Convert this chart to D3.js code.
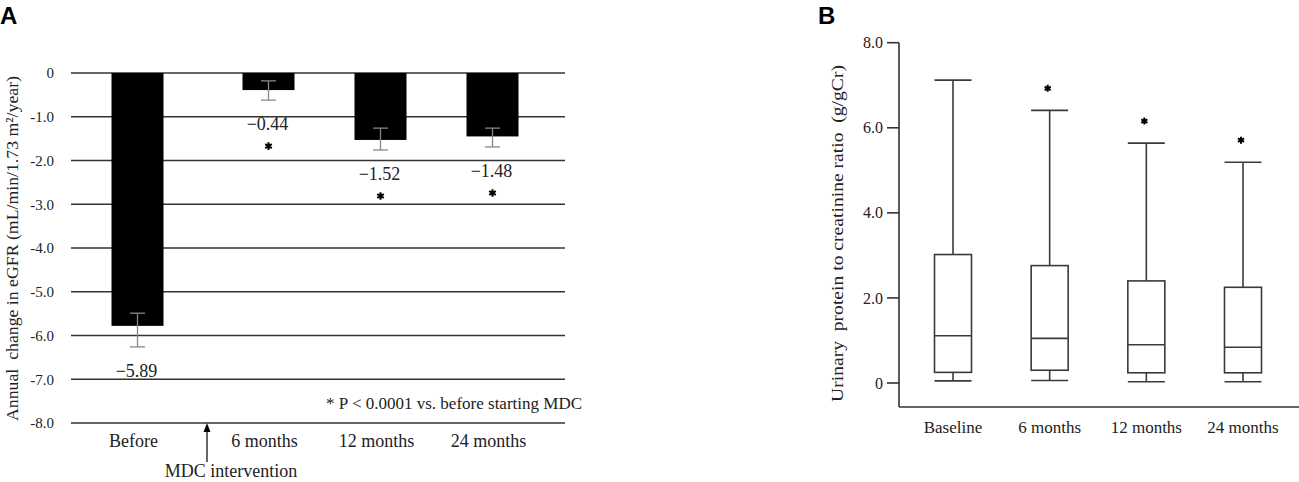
<!DOCTYPE html>
<html><head><meta charset="utf-8">
<script src="https://cdn.jsdelivr.net/npm/d3@7"></script>
<style>
html,body{margin:0;padding:0;background:#fff;}
svg{display:block;}
text{font-family:"Liberation Serif","Times New Roman",serif;fill:#222;}
.panel{font-family:"Liberation Sans",Arial,sans-serif;font-weight:bold;fill:#000;}
</style></head>
<body>
<svg id="chart" width="1299" height="482"></svg>
<script>
// ---------- Panel A data ----------
const catsA = ["Before", "6 months", "12 months", "24 months"];
const barValuesA = [-5.78, -0.39, -1.53, -1.45];
const errHighA = [-5.49, -0.18, -1.26, -1.26];
const errLowA = [-6.26, -0.62, -1.76, -1.69];
const valueLabelsA = ["\u22125.89", "\u22120.44", "\u22121.52", "\u22121.48"];
const starsA = [false, true, true, true];
const ticksA = [0, -1, -2, -3, -4, -5, -6, -7, -8];
const tickLabelsA = ["0", "-1.0", "-2.0", "-3.0", "-4.0", "-5.0", "-6.0", "-7.0", "-8.0"];

// ---------- Panel B data ----------
const catsB = ["Baseline", "6 months", "12 months", "24 months"];
const whiskerHighB = [7.12, 6.41, 5.64, 5.19];
const q3B = [3.02, 2.76, 2.40, 2.25];
const medianB = [1.11, 1.05, 0.90, 0.84];
const q1B = [0.25, 0.30, 0.24, 0.24];
const whiskerLowB = [0.05, 0.06, 0.03, 0.03];
const starsB = [false, true, true, true];
const ticksB = [0, 2, 4, 6, 8];
const tickLabelsB = ["0", "2.0", "4.0", "6.0", "8.0"];

const svg = d3.select("#chart");

// ================= Panel A =================
const gA = svg.append("g");
const yA = d3.scaleLinear().domain([-8, 0]).range([423, 73]);
const xA = d3.scalePoint().domain(catsA).range([156.5, 492.5]);
const interventionGap = 19; // "Before" sits further left, before the intervention arrow
const cxA = (c) => xA(c) - (c === "Before" ? interventionGap : 0);
const barW = 52;

gA.selectAll("line.grid").data(ticksA).join("line")
  .attr("x1", 71).attr("x2", 565)
  .attr("y1", d => yA(d)).attr("y2", d => yA(d))
  .attr("stroke", "#333").attr("stroke-width", 1.6);

gA.selectAll("text.tick").data(ticksA).join("text")
  .attr("x", 54).attr("y", d => yA(d)).attr("dy", "0.35em")
  .attr("text-anchor", "end").attr("font-size", 15)
  .text((d, i) => tickLabelsA[i]);

const dataA = catsA.map((c, i) => ({c, v: barValuesA[i], hi: errHighA[i], lo: errLowA[i], lab: valueLabelsA[i], star: starsA[i]}));
gA.selectAll("rect.bar").data(dataA).join("rect")
  .attr("x", d => cxA(d.c) - barW / 2).attr("width", barW)
  .attr("y", yA(0)).attr("height", d => yA(d.v) - yA(0))
  .attr("fill", "#000");

const eb = gA.selectAll("g.eb").data(dataA).join("g").attr("stroke", "#888").attr("stroke-width", 1.3);
eb.append("line").attr("x1", d => cxA(d.c)).attr("x2", d => cxA(d.c))
  .attr("y1", d => yA(d.hi)).attr("y2", d => yA(d.lo));
eb.append("line").attr("x1", d => cxA(d.c) - 7.5).attr("x2", d => cxA(d.c) + 7.5)
  .attr("y1", d => yA(d.hi)).attr("y2", d => yA(d.hi));
eb.append("line").attr("x1", d => cxA(d.c) - 7.5).attr("x2", d => cxA(d.c) + 7.5)
  .attr("y1", d => yA(d.lo)).attr("y2", d => yA(d.lo));

gA.selectAll("text.val").data(dataA).join("text")
  .attr("x", d => cxA(d.c) - 1).attr("y", d => yA(d.lo) + 30)
  .attr("text-anchor", "middle").attr("font-size", 18)
  .text(d => d.lab);

gA.selectAll("path.star").data(dataA.filter(d => d.star)).join("path")
  .attr("d", d3.symbol(d3.symbolAsterisk, 40))
  .attr("transform", d => `translate(${cxA(d.c)},${yA(d.lo) + 46})`)
  .attr("stroke", "#000").attr("stroke-width", 2).attr("fill", "none");

gA.selectAll("text.xl").data(catsA).join("text")
  .attr("x", d => cxA(d) - 4).attr("y", 447)
  .attr("text-anchor", "middle").attr("font-size", 18)
  .text(d => d);

const arrowX = (cxA("Before") + cxA("6 months")) / 2 + 4;
gA.append("line").attr("x1", arrowX).attr("x2", arrowX).attr("y1", 430).attr("y2", 462)
  .attr("stroke", "#000").attr("stroke-width", 1.2);
gA.append("path").attr("d", `M${arrowX - 3.5},432 L${arrowX},423 L${arrowX + 3.5},432 Z`).attr("fill", "#000");
gA.append("text").attr("x", arrowX + 24).attr("y", 477).attr("text-anchor", "middle")
  .attr("font-size", 18).text("MDC intervention");

gA.append("text").attr("x", 582).attr("y", 409).attr("text-anchor", "end")
  .attr("font-size", 17).text("* P < 0.0001 vs. before starting MDC");

gA.append("text").attr("transform", `translate(18,${(yA(0) + yA(-8)) / 2 + 0.5}) rotate(-90)`)
  .attr("text-anchor", "middle").attr("font-size", 17).style("white-space", "pre")
  .attr("textLength", 345).attr("lengthAdjust", "spacingAndGlyphs")
  .text("Annual  change in eGFR (mL/min/1.73 m\u00B2/year)");

svg.append("text").attr("class", "panel").attr("x", 0).attr("y", 24).attr("font-size", 24).text("A");

// ================= Panel B =================
const gB = svg.append("g");
const yB = d3.scaleLinear().domain([0, 8]).range([383, 42.7]);
const xB = d3.scalePoint().domain(catsB).range([953, 1243]);
const boxW = 37;

gB.append("line").attr("x1", 899).attr("x2", 899).attr("y1", yB(8)).attr("y2", 407)
  .attr("stroke", "#333").attr("stroke-width", 1.6);
gB.append("line").attr("x1", 899).attr("x2", 1299).attr("y1", 407).attr("y2", 407)
  .attr("stroke", "#333").attr("stroke-width", 1.6);
gB.selectAll("line.tk").data(ticksB).join("line")
  .attr("x1", 887).attr("x2", 899).attr("y1", d => yB(d)).attr("y2", d => yB(d))
  .attr("stroke", "#333").attr("stroke-width", 1.6);
gB.selectAll("text.tk").data(ticksB).join("text")
  .attr("x", 883).attr("y", d => yB(d)).attr("dy", "0.35em")
  .attr("text-anchor", "end").attr("font-size", 16)
  .text((d, i) => tickLabelsB[i]);

const dataB = catsB.map((c, i) => ({c, hi: whiskerHighB[i], q3: q3B[i], med: medianB[i], q1: q1B[i], lo: whiskerLowB[i], star: starsB[i]}));
const bx = gB.selectAll("g.box").data(dataB).join("g")
  .attr("stroke", "#3a3a3a").attr("stroke-width", 1.6).attr("fill", "none");
bx.append("line").attr("x1", d => xB(d.c)).attr("x2", d => xB(d.c))
  .attr("y1", d => yB(d.hi)).attr("y2", d => yB(d.q3));
bx.append("line").attr("x1", d => xB(d.c)).attr("x2", d => xB(d.c))
  .attr("y1", d => yB(d.q1)).attr("y2", d => yB(d.lo));
bx.append("line").attr("x1", d => xB(d.c) - boxW / 2).attr("x2", d => xB(d.c) + boxW / 2)
  .attr("y1", d => yB(d.hi)).attr("y2", d => yB(d.hi));
bx.append("line").attr("x1", d => xB(d.c) - boxW / 2).attr("x2", d => xB(d.c) + boxW / 2)
  .attr("y1", d => yB(d.lo)).attr("y2", d => yB(d.lo));
bx.append("rect").attr("x", d => xB(d.c) - boxW / 2).attr("width", boxW)
  .attr("y", d => yB(d.q3)).attr("height", d => yB(d.q1) - yB(d.q3)).attr("fill", "#fff");
bx.append("line").attr("x1", d => xB(d.c) - boxW / 2).attr("x2", d => xB(d.c) + boxW / 2)
  .attr("y1", d => yB(d.med)).attr("y2", d => yB(d.med));

gB.selectAll("path.star").data(dataB.filter(d => d.star)).join("path")
  .attr("d", d3.symbol(d3.symbolAsterisk, 34))
  .attr("transform", d => `translate(${xB(d.c) - 2},${yB(d.hi) - 22})`)
  .attr("stroke", "#000").attr("stroke-width", 2).attr("fill", "none");

gB.selectAll("text.xl").data(catsB).join("text")
  .attr("x", d => xB(d)).attr("y", 433)
  .attr("text-anchor", "middle").attr("font-size", 17)
  .text(d => d);

gB.append("text").attr("transform", `translate(843,233.5) rotate(-90)`)
  .attr("text-anchor", "middle").attr("font-size", 17).style("white-space", "pre")
  .attr("textLength", 337).attr("lengthAdjust", "spacingAndGlyphs")
  .text("Urinary  protein to creatinine ratio  (g/gCr)");

svg.append("text").attr("class", "panel").attr("x", 818).attr("y", 24).attr("font-size", 24).text("B");
</script>
</body></html>
